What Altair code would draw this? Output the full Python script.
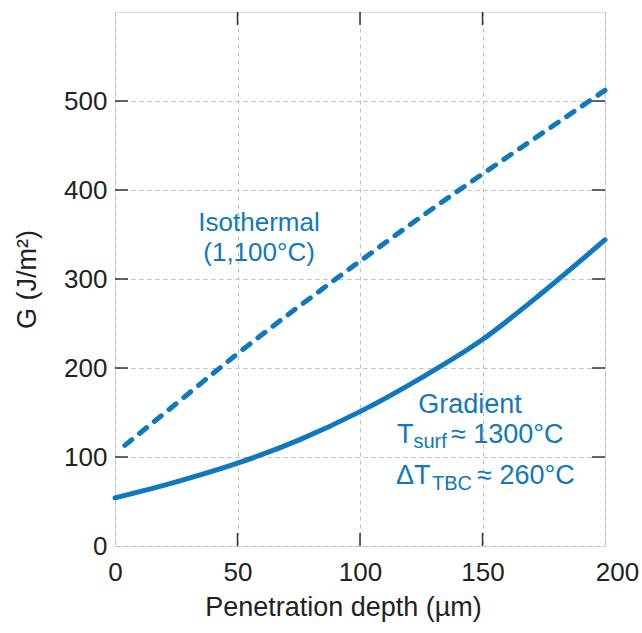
import altair as alt
import pandas as pd

# Data
depth_grad = [0, 25, 50, 75, 100, 125, 150, 175, 200]
G_grad = [54, 72, 93, 119, 151, 189, 232, 286, 344]
depth_iso = [4, 25, 50, 75, 100, 125, 150, 175, 200]
G_iso = [113, 160, 216, 269, 320, 370, 418, 465, 512]

x_ticks = [0, 50, 100, 150, 200]
y_ticks = [0, 100, 200, 300, 400, 500]

ann_text = ["Isothermal", "(1,100°C)", "Gradient", "T", "surf", "≈ 1300°C", "ΔT", "TBC", "≈ 260°C"]
ann_x = [58.8, 58.8, 144.9, 115.1, 121.8, 137.1, 114.7, 129.4, 147.8]
ann_y = [353.5, 320.0, 149.4, 115.7, 110.0, 115.7, 69.7, 62.9, 69.7]
ann_size = [26, 26, 27, 27, 20, 27, 27, 20, 27]
ann_align = ["center", "center", "center", "left", "left", "left", "left", "left", "left"]

BLUE = "#0f78be"
FONT = "Liberation Sans"
W, H = 490, 534

grad = pd.DataFrame({"depth": depth_grad, "G": G_grad})
iso = pd.DataFrame({"depth": depth_iso, "G": G_iso})
ann = pd.DataFrame({"text": ann_text, "x": ann_x, "y": ann_y, "size": ann_size, "align": ann_align})

xscale = alt.Scale(domain=[0, 200], nice=False, zero=False)
yscale = alt.Scale(domain=[0, 600], nice=False)

xaxis = alt.Axis(
    values=x_ticks, title="Penetration depth (µm)", ticks=False, domain=False,
    grid=True, gridDash=[4, 4], gridColor="#bdbdbd", gridWidth=1,
    labelFont=FONT, labelFontSize=26, labelColor="#222222", labelPadding=13,
    labelFlush=False,
    labelOffset={"condition": {"test": "datum.value == 200", "value": 12}, "value": 0},
    titleFont=FONT, titleFontSize=27, titleFontWeight="normal", titleColor="#222222",
    titleX=W / 2 - 17, titleY=61, titleBaseline="middle", titleAlign="center",
)
yaxis = alt.Axis(
    values=y_ticks, title="G (J/m²)", ticks=False, domain=False,
    grid=True, gridDash=[4, 4], gridColor="#bdbdbd", gridWidth=1,
    labelFont=FONT, labelFontSize=26, labelColor="#222222", labelPadding=8,
    titleFont=FONT, titleFontSize=27, titleFontWeight="normal", titleColor="#222222",
    titleX=-88, titleY=H / 2, titleAngle=-90, titleBaseline="middle", titleAlign="center",
)

base_grid = alt.Chart(grad).mark_line(opacity=0).encode(
    x=alt.X("depth:Q", scale=xscale, axis=xaxis),
    y=alt.Y("G:Q", scale=yscale, axis=yaxis),
)

line_grad = alt.Chart(grad).mark_line(color=BLUE, strokeWidth=5, interpolate="monotone", strokeCap="round").encode(
    x=alt.X("depth:Q", scale=xscale),
    y=alt.Y("G:Q", scale=yscale),
)
line_iso = alt.Chart(iso).mark_line(color=BLUE, strokeWidth=5, interpolate="monotone",
                                    strokeDash=[9, 10], strokeCap="round").encode(
    x=alt.X("depth:Q", scale=xscale),
    y=alt.Y("G:Q", scale=yscale),
)

xt = pd.DataFrame({"v": x_ticks[1:-1]})
yt = pd.DataFrame({"v": y_ticks[1:]})
TICK = 13
tick_style = dict(color="#333333", strokeWidth=1.5)
t_bottom = alt.Chart(xt).mark_rule(**tick_style).encode(
    x=alt.X("v:Q", scale=xscale), y=alt.value(H), y2=alt.value(H - TICK))
t_top = alt.Chart(xt).mark_rule(**tick_style).encode(
    x=alt.X("v:Q", scale=xscale), y=alt.value(0), y2=alt.value(TICK))
t_left = alt.Chart(yt).mark_rule(**tick_style).encode(
    y=alt.Y("v:Q", scale=yscale), x=alt.value(0), x2=alt.value(TICK))
t_right = alt.Chart(yt).mark_rule(**tick_style).encode(
    y=alt.Y("v:Q", scale=yscale), x=alt.value(W), x2=alt.value(W - TICK))

texts = []
for al in ["center", "left"]:
    texts.append(
        alt.Chart(ann[ann["align"] == al]).mark_text(font=FONT, color=BLUE, align=al, baseline="alphabetic").encode(
            x=alt.X("x:Q", scale=xscale),
            y=alt.Y("y:Q", scale=yscale),
            text="text:N",
            size=alt.Size("size:Q", scale=None, legend=None),
        )
    )

chart = alt.layer(base_grid, line_iso, line_grad, t_bottom, t_top, t_left, t_right, *texts).properties(
    width=W, height=H,
    autosize=alt.AutoSizeParams(type="none"),
    padding={"left": 115, "top": 12, "right": 37, "bottom": 87},
).configure_view(stroke="#444444", strokeWidth=1.5).configure(background="white")

chart.save("out.html", embed_options={"renderer": "svg", "actions": False})
